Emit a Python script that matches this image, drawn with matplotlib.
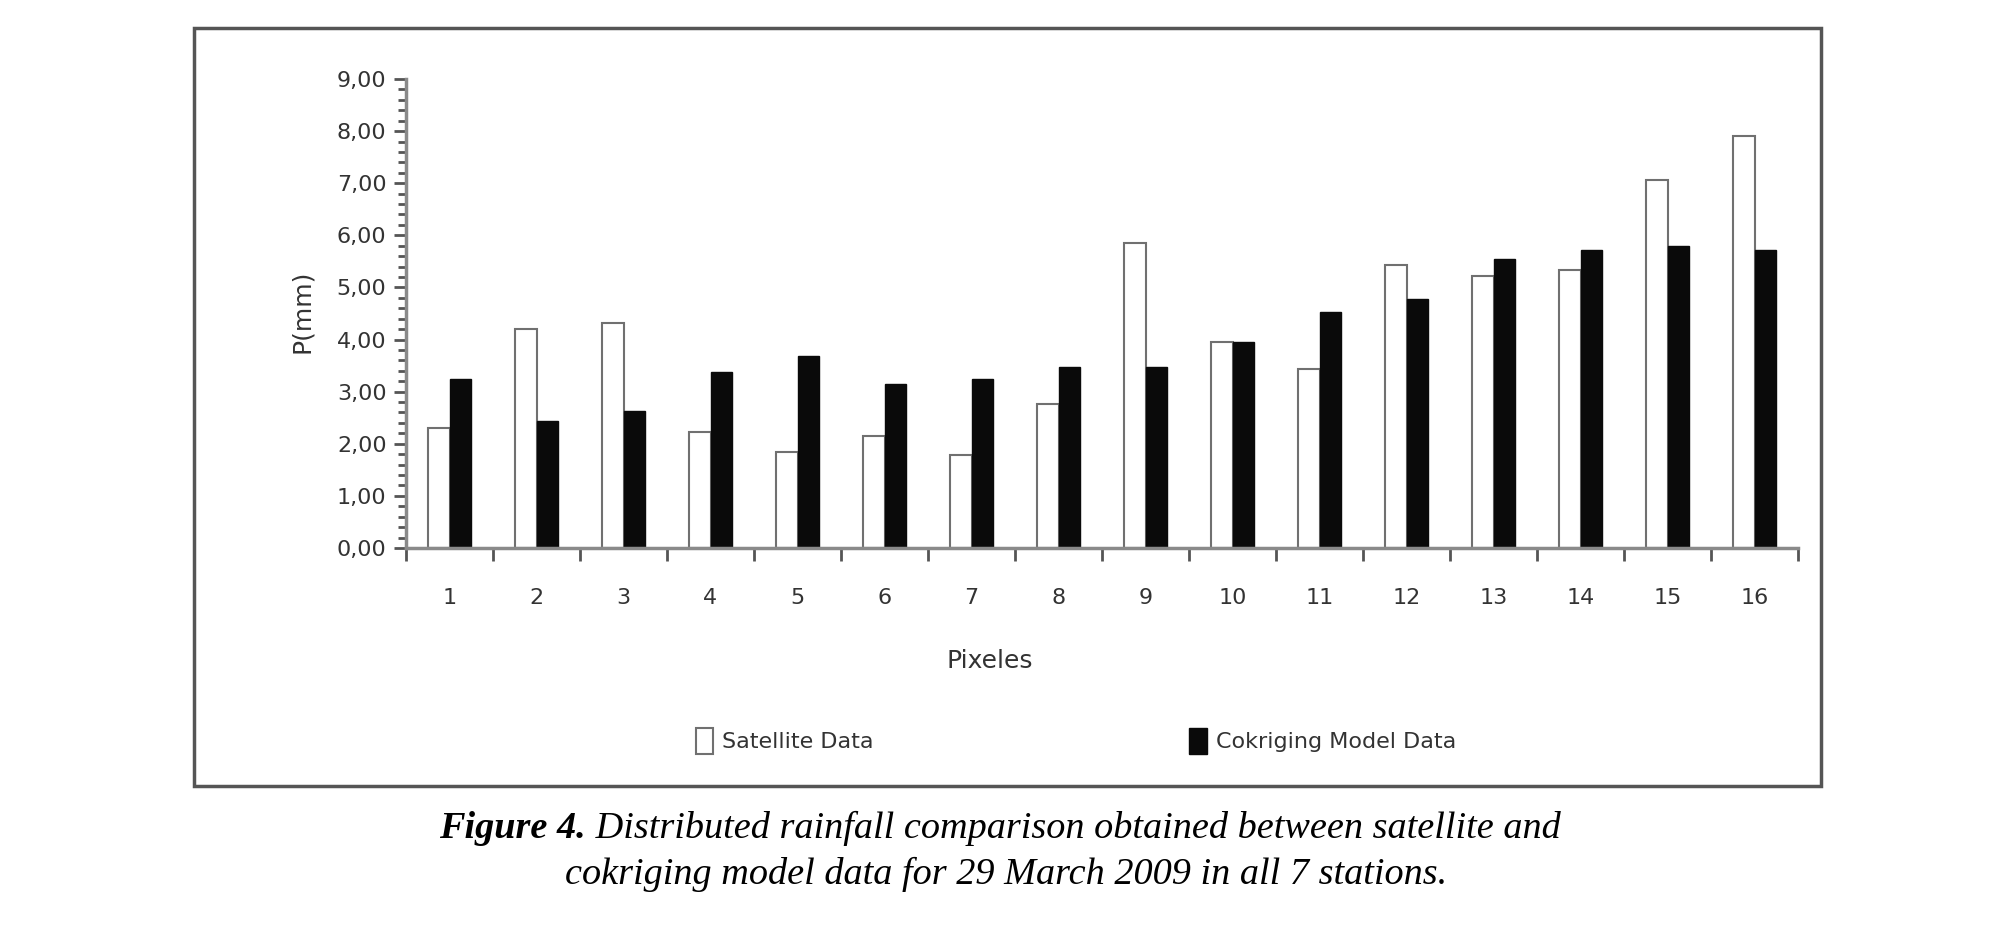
import matplotlib.pyplot as plt
from matplotlib.patches import Patch, Rectangle
from matplotlib.ticker import FixedLocator, MultipleLocator, FuncFormatter
import numpy as np

pixels = list(range(1, 17))
satellite = [2.30, 4.21, 4.32, 2.23, 1.85, 2.14, 1.79, 2.76,
             5.85, 3.95, 3.44, 5.44, 5.22, 5.33, 7.06, 7.90]
cokriging = [3.24, 2.44, 2.63, 3.37, 3.68, 3.15, 3.24, 3.47,
             3.47, 3.95, 4.52, 4.78, 5.54, 5.71, 5.80, 5.71]

AXIS_GRAY = "#8a8a8a"
TEXT = "#333333"

fig = plt.figure(figsize=(20, 9.25), dpi=100)
ax = fig.add_axes([0.203, 0.4076, 0.696, 0.507])

x = np.array(pixels)
w = 0.25
ax.bar(x - w / 2, satellite, width=w, color="white", edgecolor="#707070", linewidth=1.5)
ax.bar(x + w / 2, cokriging, width=w, color="#0a0a0a", edgecolor="#0a0a0a", linewidth=1.0)

ax.set_xlim(0.5, 16.5)
ax.set_ylim(0, 9)

for side in ["top", "right"]:
    ax.spines[side].set_visible(False)
for side in ["left", "bottom"]:
    ax.spines[side].set_color(AXIS_GRAY)
    ax.spines[side].set_linewidth(2.5)

ax.yaxis.set_major_locator(MultipleLocator(1))
ax.yaxis.set_minor_locator(MultipleLocator(0.2))
ax.yaxis.set_major_formatter(FuncFormatter(lambda v, p: f"{v:.2f}".replace(".", ",")))
ax.tick_params(axis="y", which="major", length=9, width=2, color="#555555",
               labelsize=16, pad=5, labelcolor=TEXT)
ax.tick_params(axis="y", which="minor", length=6, width=2, color="#555555")

# categories labelled at centres, ticks drawn between groups
ax.xaxis.set_major_locator(FixedLocator(np.arange(0.5, 17, 1)))
ax.xaxis.set_major_formatter(FuncFormatter(lambda v, p: ""))
ax.xaxis.set_minor_locator(FixedLocator(x))
ax.set_xticklabels([str(p) for p in pixels], minor=True)
ax.tick_params(axis="x", which="major", length=9, width=2, color="#555555")
ax.tick_params(axis="x", which="minor", length=0, labelsize=16, pad=29, labelcolor=TEXT)

fig.text(0.151, 0.663, "P(mm)", rotation=90, ha="center", va="center", fontsize=18, color=TEXT)
fig.text(0.495, 0.285, "Pixeles", ha="center", va="center", fontsize=18, color=TEXT)

handles = [Patch(facecolor="white", edgecolor="#707070", linewidth=1.5, label="Satellite Data"),
           Patch(facecolor="#0a0a0a", edgecolor="#0a0a0a", label="Cokriging Model Data")]
fig.legend(handles=handles, loc="center", bbox_to_anchor=(0.538, 0.199), ncol=2,
           frameon=False, fontsize=16, handlelength=0.8, handleheight=1.4,
           handletextpad=0.4, columnspacing=14.2, labelcolor=TEXT)

# outer frame around the chart
fig.add_artist(Rectangle((0.097, 0.150), 0.8135, 0.820, transform=fig.transFigure,
                         fill=False, edgecolor="#555555", linewidth=2.5))

# caption: bold "Figure 4." followed by italic text
cap = dict(fontsize=27.5, family="Liberation Serif", style="italic")
t1 = fig.text(0.2195, 0.104, "Figure 4.", ha="left", va="center", weight="bold", **cap)
fig.add_artist(plt.Annotation(" Distributed rainfall comparison obtained between satellite and",
                              xy=(1, 0), xycoords=t1, ha="left", va="bottom", **cap))
fig.text(0.503, 0.055, "cokriging model data for 29 March 2009 in all 7 stations.",
         ha="center", va="center", **cap)

fig.savefig("out.png", dpi=100)
